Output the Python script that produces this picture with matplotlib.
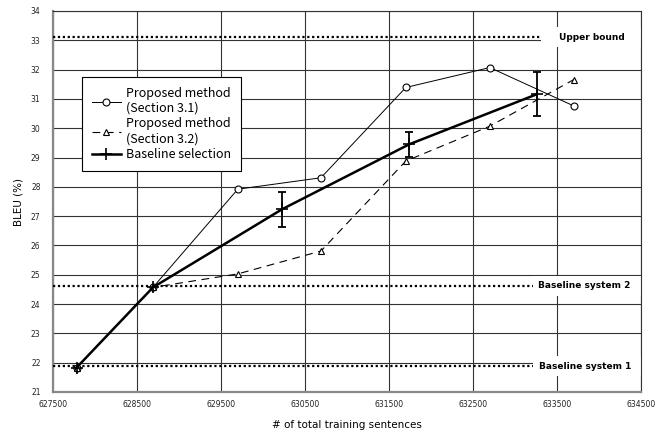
import matplotlib.pyplot as plt
from matplotlib.patches import Rectangle

# data
x_prop = [627780, 628690, 629700, 630690, 631700, 632700, 633700]
bleu_sec31 = [21.83, 24.57, 27.92, 28.31, 31.39, 32.07, 30.76]
bleu_sec32 = [21.83, 24.57, 25.03, 25.81, 28.88, 30.07, 31.66]

x_base = [627780, 628690, 630230, 631740, 633260]
bleu_base = [21.83, 24.57, 27.24, 29.45, 31.16]
err_base = [0.0, 0.0, 0.6, 0.42, 0.75]

ref_names = ['Upper bound', 'Baseline system 2', 'Baseline system 1']
ref_values = [33.1, 24.62, 21.88]
ref_label_x = [633520, 633270, 633285]
ref_line_end = [633306, 633210, 633210]

xticks = [627500, 628500, 629500, 630500, 631500, 632500, 633500, 634500]
yticks = list(range(21, 35))

fig = plt.figure(figsize=(6.68, 4.34), dpi=100)
ax = fig.add_axes([53 / 668, 1 - 392 / 434, 588 / 668, 381 / 434])

ax.set_xlim(627500, 634500)
ax.set_ylim(21, 34)
ax.set_xticks(xticks)
ax.set_yticks(yticks)
ax.tick_params(length=0, labelsize=5.5, colors='#222222')
ax.tick_params(axis='y', pad=9)
ax.tick_params(axis='x', pad=6)
ax.grid(True, color='#333333', linewidth=0.8)
ax.set_axisbelow(True)

for side in ['left', 'bottom']:
    ax.spines[side].set_color('#888888')
    ax.spines[side].set_linewidth(1.6)
for side in ['top', 'right']:
    ax.spines[side].set_color('#333333')
    ax.spines[side].set_linewidth(0.8)

# reference systems: dotted line + label on a white patch
for name, val, lx, lend in zip(ref_names, ref_values, ref_label_x, ref_line_end):
    ax.plot([627500, lend], [val, val], color='black', linewidth=1.6,
            linestyle=(0, (1, 1.2)), zorder=3)
    ax.add_patch(Rectangle((lend, val - 0.34), 634500 - lend, 0.68,
                           facecolor='white', edgecolor='none', zorder=1))
    ax.text(lx, val, name, fontsize=6.5, fontweight='bold', va='center',
            ha='left', zorder=4)

ax.plot(x_prop, bleu_sec31, color='black', linewidth=0.7, marker='o',
        markersize=5, markerfacecolor='white', markeredgewidth=0.8,
        label='Proposed method\n(Section 3.1)', zorder=5)
ax.plot(x_prop, bleu_sec32, color='black', linewidth=0.8, marker='^',
        markersize=5, markerfacecolor='white', markeredgewidth=0.8,
        dashes=(7, 5), label='Proposed method\n(Section 3.2)', zorder=5)
ax.plot(x_base, bleu_base, color='black', linewidth=1.8, marker='+',
        markersize=9, markeredgewidth=1.2, label='Baseline selection', zorder=6)
eb_x = [x for x, e in zip(x_base, err_base) if e > 0]
eb_y = [y for y, e in zip(bleu_base, err_base) if e > 0]
eb_e = [e for e in err_base if e > 0]
ax.errorbar(eb_x, eb_y, yerr=eb_e, fmt='none', ecolor='black',
            elinewidth=1.3, capsize=3, capthick=1.3, zorder=6)

leg = ax.legend(loc='upper left', bbox_to_anchor=(0.049, 0.827),
                borderaxespad=0, prop={'family': 'Noto Sans CJK JP', 'size': 9},
                handlelength=2.3, handletextpad=0.4, labelspacing=0.2,
                borderpad=0.8, fancybox=False, framealpha=1, edgecolor='black')
leg.get_frame().set_linewidth(0.8)

ax.set_ylabel('BLEU (%)', fontsize=7.5, labelpad=5)
ax.set_xlabel('# of total training sentences', fontsize=7.5, labelpad=8)

fig.savefig('out.png', dpi=100)
